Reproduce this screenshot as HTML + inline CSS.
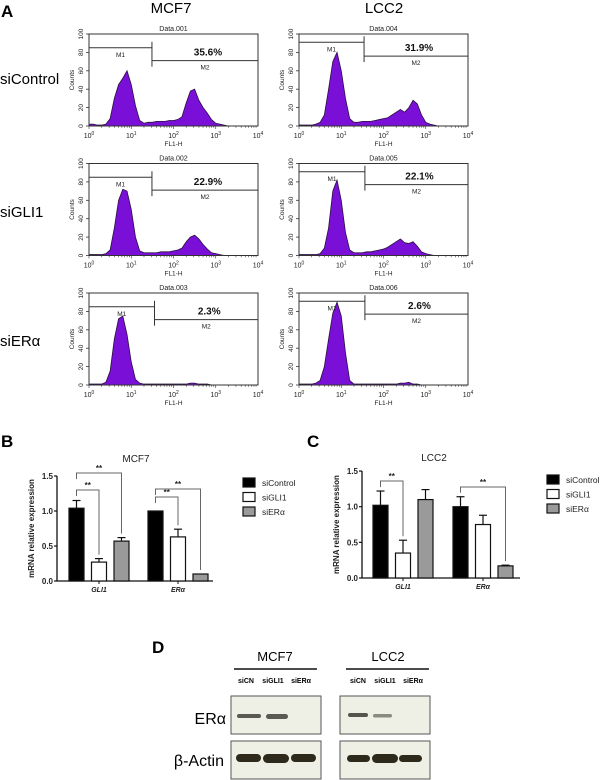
<!DOCTYPE html>
<html><head><meta charset="utf-8">
<style>
html,body{margin:0;padding:0;background:#fff;}
svg{display:block;font-family:"Liberation Sans",Arial,sans-serif;}
</style></head>
<body>
<svg id="fig" width="600" height="780" viewBox="0 0 600 780" xmlns="http://www.w3.org/2000/svg">
<text x="1" y="17" font-size="17" font-weight="bold">A</text>
<text x="171" y="13" font-size="15" text-anchor="middle">MCF7</text>
<text x="384" y="13" font-size="15" text-anchor="middle">LCC2</text>
<text x="0" y="84" font-size="15">siControl</text>
<text x="0" y="217" font-size="15">siGLI1</text>
<text x="0" y="346" font-size="15">siERα</text>
<g id="hists"></g>
<g id="bars"></g>
<g id="blot"></g>
</svg>
<script>
// ---------- Histogram data (counts at 0.1-decade steps, log10 0..4) ----------
const histLogSteps = 41;
const histMcf7Ctrl = [2,2,1,1,2,8,30,45,52,60,45,22,6,3,4,4,5,5,5,6,6,7,10,25,38,40,28,20,14,7,3,2,1,0,0,0,0,0,0,0,0];
const histLcc2Ctrl = [1,1,1,1,2,4,12,40,70,80,60,30,8,4,4,5,5,5,6,7,8,9,12,15,18,15,20,28,24,12,4,2,1,0,0,0,0,0,0,0,0];
const histMcf7Gli1 = [1,1,1,1,2,6,30,60,72,70,50,20,5,3,3,3,3,4,4,4,5,6,8,15,20,22,18,12,7,3,2,1,0,0,0,0,0,0,0,0,0];
const histLcc2Gli1 = [1,1,1,1,1,2,8,30,70,82,60,25,6,3,3,3,4,4,5,6,7,9,12,15,18,14,13,15,10,4,2,1,0,0,0,0,0,0,0,0,0];
const histMcf7Era = [1,1,1,1,3,15,50,72,75,55,25,6,2,1,1,1,1,1,1,1,1,1,1,1,2,2,1,1,1,0,0,0,0,0,0,0,0,0,0,0,0];
const histLcc2Era = [1,1,1,1,2,5,20,50,78,90,75,35,5,1,1,1,1,1,1,1,1,1,1,1,2,2,3,1,1,0,0,0,0,0,0,0,0,0,0,0,0];
const histNames = ["Data.001","Data.004","Data.002","Data.005","Data.003","Data.006"];
const histPercents = ["35.6%","31.9%","22.9%","22.1%","2.3%","2.6%"];
const histM1End = [1.49,1.54,1.49,1.56,1.55,1.56];
const histM1Level = [85,91,85,91,85,91];
const histM2Level = [71,76,71,77,71,77];
const histYTicks = [0,20,40,60,80,100];
const histXTicks = [0,1,2,3,4];

// ---------- Bar chart data ----------
const barGenes = ["GLI1","ERα"];
const barSeries = ["siControl","siGLI1","siERα"];
const mcf7Values = [[1.04,0.27,0.57],[1.0,0.63,0.10]];
const mcf7Errors = [[0.11,0.05,0.05],[0.0,0.11,0.0]];
const lcc2Values = [[1.02,0.35,1.10],[1.0,0.75,0.17]];
const lcc2Errors = [[0.20,0.18,0.14],[0.14,0.13,0.01]];
const barYTicks = [0.0,0.5,1.0,1.5];

const NS="http://www.w3.org/2000/svg";
function mk(parent,tag,attrs,text){const e=document.createElementNS(NS,tag);for(const k in attrs)e.setAttribute(k,attrs[k]);if(text!==undefined)e.textContent=text;parent.appendChild(e);return e;}

// ---------- Histograms ----------
const H=document.getElementById('hists');
const histData=[histMcf7Ctrl,histLcc2Ctrl,histMcf7Gli1,histLcc2Gli1,histMcf7Era,histLcc2Era];
const colL=[89,299], rowB=[126,255.5,385], HW=169, HH=92;
histData.forEach((data,i)=>{
  const L=colL[i%2], B=rowB[Math.floor(i/2)], T=B-HH;
  const xs=v=>L+v/4*HW, ys=c=>B-c/100*HH;
  const g=mk(H,'g',{});
  
  
  let pts=[[xs(0),ys(0)]];
  for(let k=0;k<histLogSteps;k++){pts.push([xs(k*0.1),ys(data[k])]);}
  pts.push([xs(4),ys(0)]);
  const poly=mk(g,'polygon',{points:pts.map(p=>p.join(',')).join(' '),fill:'#7a10d8',stroke:'#2a1040','stroke-width':'0.8'});
  
  
  const fr=mk(g,'rect',{x:L,y:T,width:HW,height:HH,fill:'none',stroke:'#333','stroke-width':'1'});
  
  
  const t=mk(g,'text',{x:L+HW/2,y:T-3,'font-size':'7','text-anchor':'middle',fill:'#222'},histNames[i]);
  
  
  histYTicks.forEach(v=>{
    mk(g,'line',{x1:L-3,x2:L,y1:ys(v),y2:ys(v),stroke:'#333','stroke-width':'0.8'});
    const tl=mk(g,'text',{x:L-6,y:ys(v),'font-size':'6.5','text-anchor':'middle',transform:`rotate(-90 ${L-6} ${ys(v)})`,fill:'#222'},String(v));
    
    
  });
  const cl=mk(g,'text',{x:L-15,y:(T+B)/2,'font-size':'6.5','text-anchor':'middle',transform:`rotate(-90 ${L-15} ${(T+B)/2})`,fill:'#222'},'Counts');
  
  
  for(let d=0;d<4;d++){for(let m=1;m<10;m++){const x=xs(d+Math.log10(m));mk(g,'line',{x1:x,x2:x,y1:B,y2:B+(m===1?3:1.8),stroke:'#333','stroke-width':'0.6'});}}
  histXTicks.forEach(v=>{
    const tx=mk(g,'text',{x:xs(v),y:B+12,'font-size':'7','text-anchor':'middle',fill:'#222'});
    
    
    mk(tx,'tspan',{},'10');mk(tx,'tspan',{dy:'-3','font-size':'5'},String(v));
  });
  const xl=mk(g,'text',{x:xs(2),y:B+20,'font-size':'6.5','text-anchor':'middle',fill:'#222'},'FL1-H');
  
  
  const mx=xs(histM1End[i]), m1y=ys(histM1Level[i]), m2y=ys(histM2Level[i]);
  const m1=mk(g,'line',{x1:L,x2:mx,y1:m1y,y2:m1y,stroke:'#333','stroke-width':'1'});
  
  
  const m2=mk(g,'line',{x1:mx,x2:L+HW,y1:m2y,y2:m2y,stroke:'#333','stroke-width':'1'});
  
  
  mk(g,'line',{x1:mx,x2:mx,y1:m1y-6,y2:m2y+6,stroke:'#333','stroke-width':'1'});
  const l1=mk(g,'text',{x:(L+mx)/2,y:m1y+9,'font-size':'6.5','text-anchor':'middle',fill:'#222'},'M1');
  
  
  const l2=mk(g,'text',{x:(mx+L+HW)/2,y:m2y+9,'font-size':'6.5','text-anchor':'middle',fill:'#222'},'M2');
  
  
  const pc=mk(g,'text',{x:(mx+L+HW)/2+3,y:m2y-5,'font-size':'10','font-weight':'bold','text-anchor':'middle',fill:'#111'},histPercents[i]);
  
  
});

// ---------- Bar charts ----------
const BG=document.getElementById('bars');
const fills=['#000','#fff','#9a9a9a'];
function barChart(cfg){
  const g=mk(BG,'g',{});
  
  
  const y=v=>cfg.y0-v*cfg.k;
  const pl=mk(g,'text',{x:cfg.letterX,y:cfg.letterY,'font-size':'17','font-weight':'bold'},cfg.letter);
  
  
  const tt=mk(g,'text',{x:cfg.titleX,y:cfg.titleY,'font-size':'10','text-anchor':'middle',fill:'#222'},cfg.title);
  
  
  const ax=mk(g,'path',{d:`M${cfg.ax},${y(1.5)} V${y(0)} H${cfg.axEnd}`,stroke:'#111','stroke-width':'1.3',fill:'none'});
  
  
  barYTicks.forEach(v=>{
    mk(g,'line',{x1:cfg.ax-3,x2:cfg.ax,y1:y(v),y2:y(v),stroke:'#111','stroke-width':'1.2'});
    const tl=mk(g,'text',{x:cfg.ax-4,y:y(v)+3,'font-size':'8','font-weight':'bold','text-anchor':'end',fill:'#222'},v.toFixed(1));
    
    
  });
  const yl=mk(g,'text',{x:cfg.ax-23,y:y(0.75),'font-size':'8','font-weight':'bold','text-anchor':'middle',transform:`rotate(-90 ${cfg.ax-23} ${y(0.75)})`,fill:'#222'},'mRNA relative expression');
  
  
  const centers=[];
  barGenes.forEach((gene,gi)=>{
    centers.push([]);
    barSeries.forEach((s,si)=>{
      const x=cfg.gx[gi]+si*cfg.step, v=cfg.vals[gi][si], e=cfg.errs[gi][si];
      const cx=x+cfg.bw/2; centers[gi].push(cx);
      if(e>0){mk(g,'line',{x1:cx,x2:cx,y1:y(v),y2:y(v+e),stroke:'#111','stroke-width':'1.2'});
        mk(g,'line',{x1:cx-4,x2:cx+4,y1:y(v+e),y2:y(v+e),stroke:'#111','stroke-width':'1.2'});}
      const r=mk(g,'rect',{x:x,y:y(v),width:cfg.bw,height:y(0)-y(v),fill:fills[si],stroke:'#111','stroke-width':'1.2'});
      
      
    });
    mk(g,'line',{x1:(centers[gi][0]+centers[gi][2])/2,x2:(centers[gi][0]+centers[gi][2])/2,y1:y(0),y2:y(0)+3,stroke:'#111'});
    const xl=mk(g,'text',{x:(centers[gi][0]+centers[gi][2])/2,y:y(0)+11,'font-size':'7','font-weight':'bold','font-style':'italic','text-anchor':'middle',fill:'#222'},gene);
    
    
  });
  cfg.brackets.forEach(b=>{
    const [gi,to,lvl]=b;
    const x1=centers[gi][0], x2=centers[gi][to];
    const top1=y(cfg.vals[gi][0]+cfg.errs[gi][0])-4, top2=y(cfg.vals[gi][to]+cfg.errs[gi][to])-4;
    const br=mk(g,'path',{d:`M${x1},${Math.min(top1,lvl+6)} V${lvl} H${x2} V${top2}`,stroke:'#666','stroke-width':'1',fill:'none'});
    
    
    const st=mk(g,'text',{x:(x1+x2)/2,y:lvl-2,'font-size':'8','font-weight':'bold','text-anchor':'middle',fill:'#222'},'**');
    
    
  });
  barSeries.forEach((s,si)=>{
    const yy=cfg.legY+si*14.5;
    const sw=mk(g,'rect',{x:cfg.legX,y:yy-4,width:12,height:9,fill:fills[si],stroke:'#111','stroke-width':'1.2'});
    
    
    const lt=mk(g,'text',{x:cfg.legX+19,y:yy+4,'font-size':'8.5',fill:'#222'},s);
    
    
  });
}
barChart({name:'chart-b-mcf7',letter:'B',letterX:1,letterY:447,title:'MCF7',titleX:136,titleY:462,
  ax:57,axEnd:213,y0:581,k:70,gx:[69,148],step:22.5,bw:15,vals:mcf7Values,errs:mcf7Errors,
  brackets:[[0,1,490],[0,2,473],[1,1,497],[1,2,489]],legX:243,legY:482});
barChart({name:'chart-c-lcc2',letter:'C',letterX:307,letterY:447,title:'LCC2',titleX:434,titleY:461,
  ax:362,axEnd:520,y0:578,k:71.3,gx:[373,453],step:22.5,bw:15,vals:lcc2Values,errs:lcc2Errors,
  brackets:[[0,1,481],[1,2,487]],legX:547,legY:479});

// ---------- Western blot ----------
const W=document.getElementById('blot');
function t(parent,attrs,txt,name){const e=mk(parent,'text',attrs,txt);return e;}
t(W,{x:152,y:653,'font-size':'17','font-weight':'bold'},'D','panel-d-label');
t(W,{x:275,y:661,'font-size':'13','text-anchor':'middle'},'MCF7','blot-mcf7-title');
t(W,{x:388,y:661,'font-size':'13','text-anchor':'middle'},'LCC2','blot-lcc2-title');
mk(W,'line',{x1:234,x2:317,y1:669,y2:669,stroke:'#111','stroke-width':'1.5'});
mk(W,'line',{x1:346,x2:429,y1:669,y2:669,stroke:'#111','stroke-width':'1.5'});
const lanes=['siCN','siGLI1','siERα'];
[[246,273,301],[358,385,413]].forEach(cs=>cs.forEach((c,i)=>t(W,{x:c,y:683,'font-size':'7','font-weight':'bold','text-anchor':'middle'},lanes[i],'lane-label')));
t(W,{x:226,y:724,'font-size':'16','text-anchor':'end'},'ERα','era-row-label');
t(W,{x:224,y:766,'font-size':'16','text-anchor':'end'},'β-Actin','actin-row-label');
[[231,321],[340,430]].forEach((bx,bi)=>{
  [[696,734],[741,779]].forEach((by,ri)=>{
    const r=mk(W,'rect',{x:bx[0],y:by[0],width:bx[1]-bx[0],height:by[1]-by[0],fill:'#eef0e6',stroke:'#555','stroke-width':'1'});
    
    
  });
});
const bands=[[237,714,24,4,'#5a5a52'],[266,714,22,5,'#5a5a52'],[348,713,20,4,'#55554d'],[373,714,19,3.5,'#8a8a80'],
 [236,754,25,8,'#2d2a1c'],[263,754,26,9,'#2d2a1c'],[291,754,25,8,'#2d2a1c'],[347,755,23,7,'#2d2a1c'],[372,754,26,9,'#2d2a1c'],[399,755,23,7,'#2d2a1c']];
bands.forEach(b=>{const e=mk(W,'rect',{x:b[0],y:b[1],width:b[2],height:b[3],rx:b[3]/2,ry:b[3]/2,fill:b[4]});});
</script>
</body></html>
